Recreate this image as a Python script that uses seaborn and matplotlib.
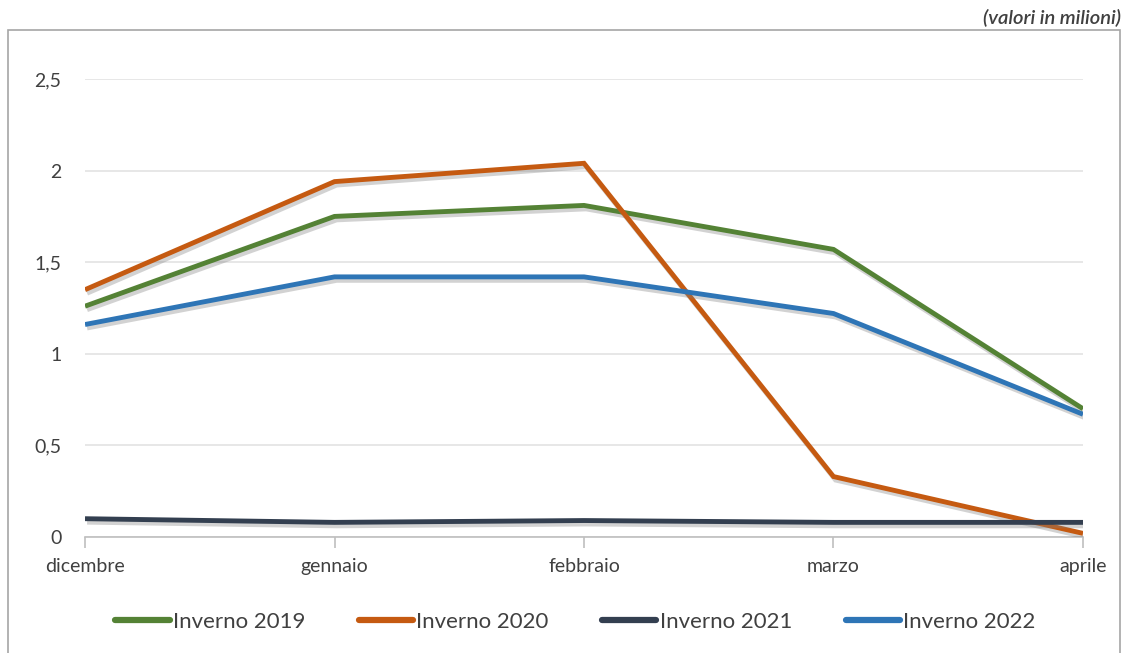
import matplotlib
matplotlib.use("Agg")
import matplotlib.pyplot as plt
import matplotlib.patheffects as pe
from matplotlib.patches import Rectangle
from matplotlib.lines import Line2D
import seaborn as sns
import pandas as pd

mesi = ["dicembre", "gennaio", "febbraio", "marzo", "aprile"]
inverno_2019 = [1.26, 1.75, 1.81, 1.57, 0.70]
inverno_2020 = [1.35, 1.94, 2.04, 0.33, 0.02]
inverno_2021 = [0.10, 0.08, 0.09, 0.08, 0.08]
inverno_2022 = [1.16, 1.42, 1.42, 1.22, 0.67]
serie = ["Inverno 2019", "Inverno 2020", "Inverno 2021", "Inverno 2022"]
y_ticks = [0, 0.5, 1, 1.5, 2, 2.5]
y_labels = ["0", "0,5", "1", "1,5", "2", "2,5"]

colori = ["#548235", "#C55A11", "#333F50", "#2E75B6"]

rows = []
for nome, vals in zip(serie, [inverno_2019, inverno_2020, inverno_2021, inverno_2022]):
    for i, (m, v) in enumerate(zip(mesi, vals)):
        rows.append({"pos": i, "mese": m, "valore": v, "serie": nome})
df = pd.DataFrame(rows)

sns.set_theme(style="white")
plt.rcParams["font.family"] = ["Lato", "DejaVu Sans"]

fig = plt.figure(figsize=(11.26, 6.53), dpi=100)
ax = fig.add_axes([0.0755, 0.1776, 0.8863, 0.7014])

# outer frame
fig.patches.append(Rectangle((8 / 1126, -0.05), 1112 / 1126, (653 - 30) / 653 + 0.05,
                             transform=fig.transFigure, fill=False,
                             edgecolor="#a6a6a6", linewidth=1.2, zorder=0))

sns.lineplot(data=df, x="pos", y="valore", hue="serie", palette=colori,
             linewidth=3.5, ax=ax, legend=False, sort=False)

for line in ax.get_lines():
    line.set_path_effects([pe.SimpleLineShadow(offset=(1.5, -2.5), shadow_color="#7f7f7f", alpha=0.35),
                           pe.Normal()])
    line.set_solid_capstyle("butt")
    line.set_solid_joinstyle("miter")

ax.set_xlim(0, 4)
ax.set_ylim(0, 2.5)
ax.set_yticks(y_ticks)
ax.set_yticklabels(y_labels)
ax.set_xticks(range(len(mesi)))
ax.set_xticklabels(mesi)
ax.set_xlabel("")
ax.set_ylabel("")
ax.grid(axis="y", color="#e3e3e3", linewidth=1.2)
ax.set_axisbelow(True)
for s in ["top", "right", "left"]:
    ax.spines[s].set_visible(False)
ax.spines["bottom"].set_color("#bfbfbf")
ax.spines["bottom"].set_linewidth(1.2)
ax.spines["bottom"].set_zorder(1)
ax.tick_params(axis="x", bottom=True, length=8, width=1.2, color="#bfbfbf",
               direction="out", labelsize=14, labelcolor="#404040", pad=7)
ax.tick_params(axis="y", left=False, labelsize=14, labelcolor="#404040", pad=11)

# legend
handles = [Line2D([0], [0], color=c, linewidth=4.5, solid_capstyle="round") for c in colori]
fig.legend(handles, serie, loc="center", bbox_to_anchor=(0.511, 0.048), ncol=4,
           frameon=False, fontsize=16, handlelength=2.45, handletextpad=0.15,
           columnspacing=2.4, labelcolor="#404040")

fig.text(0.996, 0.973, "(valori in milioni)", ha="right", va="center",
         fontsize=14.5, style="italic", fontweight="semibold", color="#404040")

fig.savefig("out.png", dpi=100)
